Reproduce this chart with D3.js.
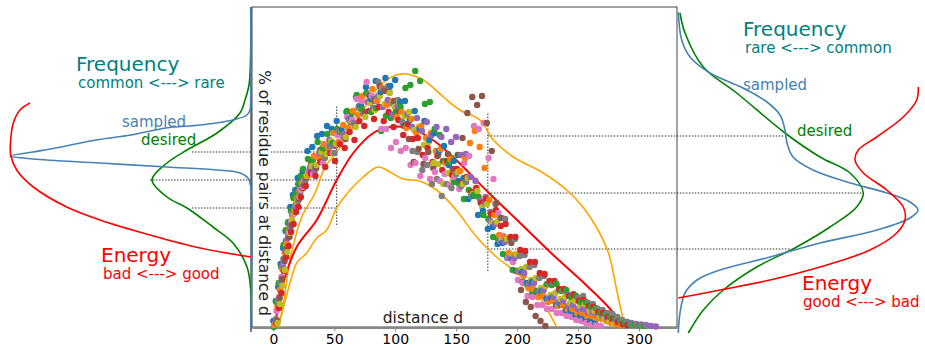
<!DOCTYPE html>
<html>
<head>
<meta charset="utf-8">
<script src="https://cdn.jsdelivr.net/npm/d3@7"></script>
<style>
  body { margin: 0; background: #fff; }
  svg { display: block; font-family: 'DejaVu Sans', sans-serif; }
</style>
</head>
<body>
<svg id="chart" width="925" height="349"></svg>
<script>
// distances d: finer sampling on the steep rise, then every 4
const distances = [
  0, 2, 4, 6, 8, 10, 12, 14, 16, 18, 20, 22, 24,
  28, 32, 36, 40, 44, 48, 52, 56, 60, 64, 68, 72, 76, 80, 84, 88, 92, 96,
  100, 104, 108, 112, 116, 120, 124, 128, 132, 136, 140, 144, 148, 152, 156,
  160, 164, 168, 172, 176, 180, 184, 188, 192, 196, 200, 204, 208, 212, 216,
  220, 224, 228, 232, 236, 240, 244, 248, 252, 256, 260, 264, 268, 272, 276,
  280, 284, 288, 292, 296, 300, 304, 308, 312,
]

// every protein is sampled a little shifted along d
const sampleOffset = [0, 1.3, 0.4, 2.6, 1.9, 3.2, 0.6, 2.2, 3.5]

// % of residue pairs at distance d, one list per protein
const seriesBlue = [
  0.6, 2.6, 4.0, 6.3, 7.9, 9.6, 10.4, 12.0, 13.2, 13.7, 14.9, 15.0, 15.6,
  17.6, 18.0, 19.1, 19.3, 20.1, 19.8, 20.6, 19.7, 21.5, 20.8, 23.0, 22.1, 24.0,
  22.8, 24.6, 23.5, 24.9, 24.1, 24.7, 22.5, 22.6, 20.7, 21.6,
  19.8, 20.6, 18.7, 19.4, 17.6, 18.1, 16.2, 16.6, 14.6, 14.9,
  12.8, 13.1, 11.2, 11.6, 9.8, 10.0, 8.3, 8.4, 6.9, 6.8,
  5.6, 5.5, 4.4, 4.5, 3.5, 3.6, 2.8, 2.9, 2.2, 2.2,
  1.7, 1.6, 1.2, 1.1, 0.8, 0.6, 0.4,
]
const seriesOrange = [
  0.3, 2.0, 3.7, 5.8, 7.4, 8.3, 9.9, 11.2, 11.8, 12.9, 13.6, 14.4, 14.7,
  15.2, 17.1, 16.9, 18.3, 17.9, 19.4, 18.5, 20.2, 19.9, 21.6, 21.2, 23.1, 22.5,
  23.8, 22.6, 23.9, 22.2, 22.6, 21.0, 21.5, 19.9, 20.8, 19.4,
  20.1, 18.9, 19.4, 17.6, 17.8, 16.4, 16.8, 15.3, 15.6, 16.9,
  18.4, 19.6, 18.0, 15.9, 12.7, 11.2, 9.2, 9.0, 7.4, 7.2,
  5.5, 5.1, 3.9, 3.8, 3.0, 3.1, 2.5, 2.6, 2.1, 2.2,
  1.8, 1.8, 1.4, 1.4, 1.1, 1.1, 0.9, 0.8, 0.6, 0.4,
  0.3, 0.15,
]
const seriesGreen = [
  0.0, 2.5, 4.4, 6.0, 8.2, 9.7, 10.5, 11.6, 12.9, 13.3, 14.3, 15.1, 15.8,
  16.8, 16.7, 18.5, 17.9, 19.3, 18.4, 19.8, 19.3, 21.6, 21.4, 23.2, 21.8, 23.4,
  21.5, 21.9, 19.6, 21.1, 20.9, 21.5, 22.0, 23.9, 24.2, 25.6,
  24.6, 22.3, 22.5, 19.8, 19.2, 16.6, 16.5, 14.5, 14.3, 12.8,
  13.7, 13.2, 13.0, 11.2, 10.8, 9.0, 8.8, 7.3, 7.1, 5.7,
  5.6, 4.5, 4.2, 3.4, 3.6, 3.4, 4.3, 4.2, 4.3, 3.6,
  3.7, 3.0, 3.1, 2.5, 2.5, 2.0, 1.9, 1.4, 1.3, 1.0,
  0.8, 0.6, 0.4, 0.3, 0.2, 0.15, 0.1,
]
const seriesRed = [
  0.4, 1.9, 3.4, 5.6, 7.0, 8.1, 9.5, 10.3, 11.5, 12.0, 13.0, 13.9, 14.1,
  15.4, 15.1, 16.5, 16.0, 17.4, 16.6, 18.3, 17.9, 19.5, 18.7, 20.6, 20.1, 21.6,
  20.8, 22.0, 20.6, 21.5, 20.0, 20.7, 19.2, 20.3, 18.8, 18.9,
  17.2, 17.9, 16.5, 17.1, 15.7, 16.6, 15.2, 15.8, 14.5, 15.0,
  13.5, 13.9, 12.4, 12.8, 11.3, 11.7, 10.1, 10.3, 9.0, 9.0,
  7.7, 7.6, 6.5, 6.5, 5.4, 5.3, 4.6, 4.6, 3.8, 3.8,
  3.1, 3.2, 2.6, 2.7, 2.1, 2.0, 1.5, 1.4, 1.0, 0.8,
  0.5, 0.3, 0.2,
]
const seriesPurple = [
  0.5, 2.7, 4.4, 6.1, 7.6, 8.9, 9.8, 11.4, 12.0, 12.9, 13.6, 13.9, 14.6,
  15.8, 15.6, 17.4, 17.0, 18.7, 18.1, 19.6, 19.3, 20.8, 20.4, 21.9, 21.3, 22.5,
  21.9, 23.1, 22.0, 22.7, 21.2, 22.0, 20.5, 21.3, 20.0, 20.9,
  19.6, 20.5, 19.2, 20.0, 19.0, 19.8, 18.5, 19.0, 17.2, 17.3,
  15.0, 14.6, 12.6, 12.4, 10.6, 10.3, 8.6, 8.5, 6.9, 6.9,
  5.6, 5.4, 4.3, 4.4, 3.6, 3.7, 2.9, 3.0, 2.5, 2.6,
  2.1, 2.2, 1.8, 1.8, 1.5, 1.5, 1.2, 1.1, 0.9, 0.8,
  0.7, 0.6, 0.5, 0.4, 0.3, 0.25, 0.2, 0.1, 0.05,
]
const seriesBrown = [
  0.6, 2.9, 4.8, 6.6, 7.9, 9.0, 10.2, 11.5, 12.4, 12.8, 14.0, 14.2, 14.9,
  16.4, 15.9, 17.6, 17.4, 18.6, 18.2, 19.6, 18.8, 20.5, 20.1, 22.0, 21.5, 23.1,
  22.6, 24.1, 23.6, 23.5, 22.6, 21.6, 20.1, 18.8, 16.5, 17.8,
  16.3, 17.5, 15.9, 17.2, 16.6, 17.3, 15.8, 17.2, 18.9, 21.4,
  23.0, 22.2, 23.1, 20.4, 17.6, 12.4, 10.9, 8.8, 8.4, 5.6,
  3.7, 2.5, 2.0, 1.1, 0.6, 0.1,
]
const seriesPink = [
  0.2, 1.6, 3.0, 5.0, 6.5, 8.2, 9.4, 10.6, 11.3, 12.3, 12.8, 13.7, 14.0,
  15.5, 15.3, 17.0, 16.4, 18.1, 17.4, 19.2, 19.0, 21.0, 20.7, 22.8, 22.6, 24.5,
  23.1, 22.6, 19.8, 19.8, 17.9, 18.5, 17.6, 17.9, 16.2, 16.4,
  15.1, 16.9, 14.8, 15.5, 14.6, 15.3, 14.2, 15.0, 13.8, 16.4,
  17.1, 20.1, 19.8, 20.4, 16.9, 14.8, 11.4, 9.1, 6.9, 6.5,
  4.7, 4.4, 3.1, 3.0, 2.2, 2.2, 1.8, 1.8, 1.4, 1.4,
  1.1, 1.0, 0.7, 0.6, 0.4, 0.25, 0.15, 0.1,
]
const seriesGray = [
  0.8, 2.4, 4.4, 6.8, 8.6, 9.2, 10.1, 11.3, 12.2, 12.6, 13.5, 14.1, 14.4,
  16.0, 16.0, 17.7, 16.9, 18.1, 17.4, 19.5, 18.9, 20.7, 20.3, 22.1, 21.4, 23.2,
  22.8, 24.5, 23.8, 24.1, 22.3, 22.7, 20.4, 20.3, 17.6, 17.5,
  15.7, 16.2, 14.3, 14.8, 13.1, 14.3, 13.9, 15.3, 14.1, 14.5,
  13.1, 13.8, 12.4, 13.0, 11.5, 12.3, 10.9, 10.8, 8.8, 8.8,
  7.1, 7.2, 6.0, 6.2, 4.9, 5.1, 4.3, 4.4, 3.7, 3.6,
  3.2, 3.3, 2.9, 3.1, 2.4, 2.3, 1.8, 1.7, 1.4, 1.3,
  1.0, 0.7, 0.5, 0.3, 0.2, 0.1,
]
const seriesOlive = [
  0.4, 2.3, 4.1, 5.7, 7.5, 9.4, 10.7, 11.4, 12.5, 13.0, 13.8, 14.6, 15.1,
  16.1, 16.2, 17.5, 17.3, 18.6, 18.3, 19.6, 19.0, 20.6, 20.0, 21.7, 21.0, 22.4,
  21.7, 23.1, 22.3, 23.4, 22.0, 22.5, 21.1, 21.5, 19.7, 20.0,
  18.2, 18.5, 16.4, 16.3, 14.3, 15.4, 14.7, 15.5, 14.3, 14.9,
  13.3, 13.6, 12.0, 12.3, 10.4, 10.5, 8.8, 8.8, 7.2, 7.3,
  5.8, 6.0, 4.7, 4.9, 3.9, 4.1, 3.2, 3.4, 2.8, 3.0,
  2.4, 2.6, 2.1, 2.3, 1.6, 1.6, 1.0, 0.8, 0.5, 0.3,
]
const allSeries = [
  seriesBlue, seriesOrange, seriesGreen, seriesRed, seriesPurple,
  seriesBrown, seriesPink, seriesGray, seriesOlive,
]

// mean and mean +/- std, as [d, %]
const meanCurve = [
  [1.4, 0.2], [8.2, 4.4], [19.2, 8.0], [35.6, 10.7], [52, 14.7], [65.6, 17.4], [82, 19.4],
  [95.7, 20.0], [112, 19.9], [131, 18.7], [150, 16.7], [176, 13.5], [200, 10.7], [227, 7.5],
  [254, 4.5], [271, 2.5], [284, 0.7], [287, 0],
]
const upperCurve = [
  [3, 0], [6.9, 1.4], [13.7, 6.7], [23.3, 11.0], [34.2, 13.4], [42.4, 16.0], [52, 17.5],
  [62, 19.3], [75, 22.0], [88, 24.2], [101, 25.2], [108.6, 25.3], [123, 24.7], [139.5, 23.0],
  [153, 21.7], [169.5, 20.7], [180.5, 18.7], [197, 17.0], [221.5, 15.4], [240.7, 13.7],
  [254, 12.0], [265, 10.0], [275, 7.4], [281.7, 3.7], [287, 0.7], [288, 0],
]
const lowerCurve = [
  [4.2, 0], [13.7, 4.4], [19.2, 6.4], [27.4, 7.4], [35.6, 8.9], [43.8, 9.7], [52, 11.9],
  [63, 13.7], [73.8, 15.0], [86, 16.0], [95.7, 15.5], [106.6, 14.8], [120, 14.6], [134, 13.7],
  [150, 11.7], [166.8, 9.0], [183, 7.0], [200, 5.4], [216, 3.4], [232.5, 0],
]

// side panels, as [%, frequency or energy]
const leftSampled = [
  [32, 0.003], [22.7, 0.003], [21.7, 0.01], [21.2, 0.04], [20.7, 0.18], [20.2, 0.51],
  [19.9, 0.85], [19.2, 1.2], [18.7, 1.55], [18.0, 1.9], [17.5, 2.18], [17.1, 2.41],
  [16.8, 2.18], [16.4, 1.51], [16.0, 0.84], [15.7, 0.34], [15.4, 0.11], [14.9, 0.03],
  [14.0, 0.003], [-0.3, 0.003],
]
const leftDesired = [
  [32, 0.003], [26.7, 0.005], [24.2, 0.02], [22.7, 0.06], [21.4, 0.11], [19.4, 0.34],
  [17.7, 0.64], [16.4, 0.84], [14.7, 0.99], [13.0, 0.84], [11.9, 0.64], [10.0, 0.38],
  [8.4, 0.18], [6.0, 0.04], [3.7, 0.003], [-0.3, 0.003],
]
const leftEnergy = [
  [22.4, 2.21], [21.7, 2.31], [20.4, 2.377], [18.7, 2.403], [17.2, 2.403], [15.7, 2.343],
  [14.0, 2.177], [12.0, 1.843], [10.7, 1.51], [9.2, 1.01], [7.9, 0.51], [7.0, 0.003],
]
const rightSampled = [
  [31.5, 0.013], [28.7, 0.047], [27.0, 0.13], [25.4, 0.33], [23.9, 0.66], [22.5, 0.9],
  [21.2, 1.03], [19.7, 1.08], [18.4, 1.1], [17.0, 1.16], [15.7, 1.36], [14.5, 1.7],
  [13.4, 2.1], [12.5, 2.33], [11.7, 2.41], [10.9, 2.33], [9.7, 2.0], [8.4, 1.43],
  [7.0, 0.93], [5.7, 0.43], [4.7, 0.2], [3.4, 0.08], [1.4, 0.03], [-0.6, 0.013],
]
const rightDesired = [
  [31.4, 0.03], [29.4, 0.08], [26.0, 0.263], [23.4, 0.597], [19.4, 1.08], [17.0, 1.43],
  [15.4, 1.73], [13.4, 1.863], [12.0, 1.797], [10.0, 1.53], [8.0, 1.197], [6.0, 0.797],
  [3.7, 0.463], [1.7, 0.263], [-0.6, 0.113],
]
const rightEnergy = [
  [24.0, 2.413], [22.7, 2.397], [21.0, 2.263], [19.0, 1.997], [17.7, 1.813], [16.7, 1.78],
  [15.4, 1.863], [13.7, 2.097], [12.0, 2.263], [10.7, 2.28], [9.4, 2.197], [7.7, 1.93],
  [6.0, 1.43], [4.7, 0.93], [3.7, 0.43], [2.9, 0.013],
]

// guide lines: the two distances that are cut, and mean / mean +/- std there
const cutDistances = [52, 176]
const leftCutLevels = [17.5, 14.7, 11.9]
const leftCutDesired = [0.59, 1.01, 0.59]
const rightCutLevels = [19.1, 13.4, 7.8]
const rightCutDesired = [1.1, 1.86, 1.13]
const cutSpan = [[10.2, 22.2], [5.6, 21.5]]

const xTicks = [0, 50, 100, 150, 200, 250, 300]

const COLORS = {
  scatter: d3.schemeCategory10,
  band: '#ffa500',
  mean: '#ff0000',
  sampled: 'steelblue',
  desired: 'green',
  energy: '#ff0000',
  title: 'teal',
}

const svg = d3.select('#chart')

// scales
const x = d3.scaleLinear().domain([-17.5, 331.2]).range([252, 677])
const y = d3.scaleLinear().domain([0, 32]).range([327, 7])
const fLeft = d3.scaleLinear().domain([0, 2.5]).range([251, 1])
const fRight = d3.scaleLinear().domain([0, 2.5]).range([677, 927])

// central frame
svg.append('rect')
  .attr('x', 252).attr('y', 7)
  .attr('width', 425).attr('height', 320)
  .attr('fill', 'none')
  .attr('stroke', '#444')
  .attr('stroke-width', 1)

// x axis
const xAxis = svg.append('g')
  .attr('transform', `translate(0, ${y(0) + 0.5})`)
  .call(d3.axisBottom(x).tickValues(xTicks).tickSize(4).tickSizeOuter(0).tickPadding(3))
xAxis.select('.domain').attr('stroke', '#888').attr('stroke-width', 2)
xAxis.selectAll('.tick line').attr('stroke', '#888')
xAxis.selectAll('.tick text')
  .attr('fill', '#000')
  .attr('font-size', 14)
  .attr('font-family', 'DejaVu Sans, sans-serif')

// dotted guides
const guides = svg.append('g')
  .attr('stroke', '#333')
  .attr('stroke-width', 1)
  .attr('stroke-dasharray', '1.5,1.5')
  .attr('fill', 'none')

cutDistances.forEach((d, i) => {
  guides.append('line')
    .attr('x1', x(d)).attr('x2', x(d))
    .attr('y1', y(cutSpan[i][0])).attr('y2', y(cutSpan[i][1]))
})
leftCutLevels.forEach((v, i) => {
  guides.append('line')
    .attr('x1', fLeft(leftCutDesired[i])).attr('x2', 251)
    .attr('y1', y(v)).attr('y2', y(v))
  guides.append('line')
    .attr('x1', x(-2)).attr('x2', x(cutDistances[0]))
    .attr('y1', y(v)).attr('y2', y(v))
})
rightCutLevels.forEach((v, i) => {
  guides.append('line')
    .attr('x1', x(cutDistances[1])).attr('x2', fRight(rightCutDesired[i]))
    .attr('y1', y(v)).attr('y2', y(v))
})

// mean and std band lines
const distLine = d3.line()
  .x((d) => x(d[0]))
  .y((d) => y(d[1]))
  .curve(d3.curveCatmullRom.alpha(0.5))

const lines = svg.append('g').attr('fill', 'none')
lines.append('path').attr('d', distLine(upperCurve)).attr('stroke', COLORS.band).attr('stroke-width', 1.6)
lines.append('path').attr('d', distLine(lowerCurve)).attr('stroke', COLORS.band).attr('stroke-width', 1.6)
lines.append('path').attr('d', distLine(meanCurve)).attr('stroke', COLORS.mean).attr('stroke-width', 2)

// scatter: flatten all proteins, drawn in order of distance so colours mix
const points = []
allSeries.forEach((values, k) => {
  values.forEach((v, i) => {
    points.push({k, d: distances[i] + sampleOffset[k], v})
  })
})
points.sort((a, b) => a.d - b.d)

svg.append('g')
  .selectAll('circle')
  .data(points)
  .join('circle')
  .attr('cx', (p) => x(p.d))
  .attr('cy', (p) => y(p.v))
  .attr('r', 3.2)
  .attr('fill', (p) => COLORS.scatter[p.k])

// side panels
const leftLine = d3.line()
  .x((d) => fLeft(d[1]))
  .y((d) => y(d[0]))
  .curve(d3.curveCatmullRom.alpha(0.5))
const rightLine = d3.line()
  .x((d) => fRight(d[1]))
  .y((d) => y(d[0]))
  .curve(d3.curveCatmullRom.alpha(0.5))

// left spine
svg.append('line')
  .attr('x1', 251).attr('x2', 251)
  .attr('y1', 7).attr('y2', 332)
  .attr('stroke', '#333')
  .attr('stroke-width', 1.2)

const side = svg.append('g').attr('fill', 'none').attr('stroke-width', 1.6)
side.append('path').attr('d', leftLine(leftDesired)).attr('stroke', COLORS.desired)
side.append('path').attr('d', leftLine(leftSampled)).attr('stroke', COLORS.sampled)
side.append('path').attr('d', leftLine(leftEnergy)).attr('stroke', COLORS.energy)
side.append('path').attr('d', rightLine(rightDesired)).attr('stroke', COLORS.desired)
side.append('path').attr('d', rightLine(rightSampled)).attr('stroke', COLORS.sampled)
side.append('path').attr('d', rightLine(rightEnergy)).attr('stroke', COLORS.energy)

// labels
const label = (text, px, py, size, color, anchor = 'start') =>
  svg.append('text')
    .attr('x', px).attr('y', py)
    .attr('font-size', size)
    .attr('fill', color)
    .attr('text-anchor', anchor)
    .text(text)

label('Frequency', 76, 70.5, 20, COLORS.title)
label('common <---> rare', 78, 87.5, 15, COLORS.title)
label('sampled', 122, 127, 15, COLORS.sampled)
label('desired', 141, 145, 15, COLORS.desired)
label('Energy', 101, 261.5, 20, COLORS.energy)
label('bad <---> good', 103, 278.5, 15, COLORS.energy)

label('Frequency', 743, 36, 20, COLORS.title)
label('rare <---> common', 745, 53, 15, COLORS.title)
label('sampled', 743, 90, 15, COLORS.sampled)
label('desired', 797, 136, 15, COLORS.desired)
label('Energy', 802, 289.5, 20, COLORS.energy)
label('good <---> bad', 803, 306.5, 15, COLORS.energy)

label('distance d', 423, 323, 15.5, '#222', 'middle')
svg.append('text')
  .attr('transform', 'translate(258.5, 193) rotate(90)')
  .attr('font-size', 15.5)
  .attr('fill', '#222')
  .attr('text-anchor', 'middle')
  .text('% of residue pairs at distance d')
</script>
</body>
</html>
